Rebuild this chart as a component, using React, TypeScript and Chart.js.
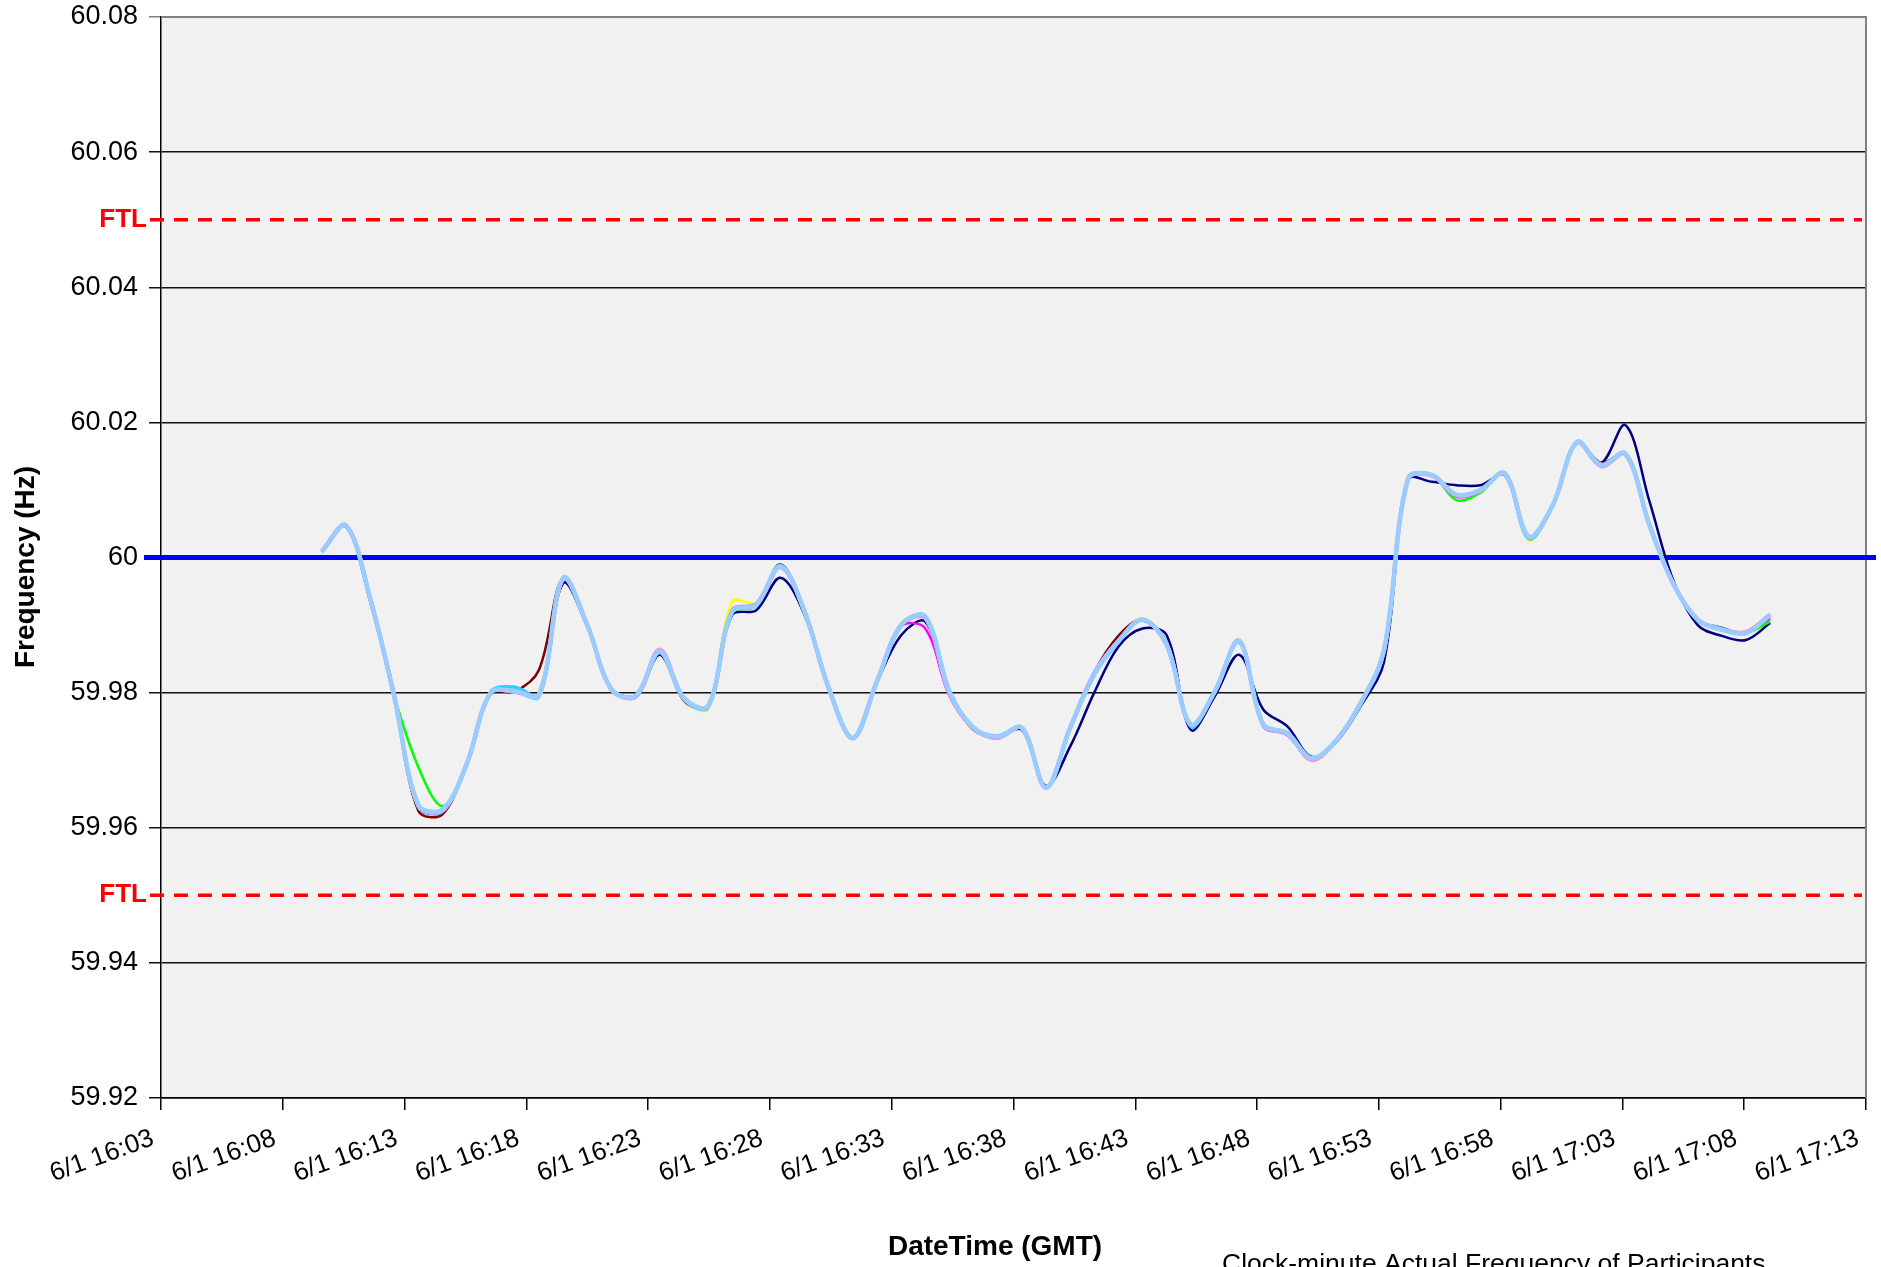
import React, { useEffect, useRef } from "react";
import { Chart, registerables } from "chart.js";

Chart.register(...registerables);

// ---------- data ----------
const tickLabels = [
  "6/1 16:03", "6/1 16:08", "6/1 16:13", "6/1 16:18", "6/1 16:23",
  "6/1 16:28", "6/1 16:33", "6/1 16:38", "6/1 16:43", "6/1 16:48",
  "6/1 16:53", "6/1 16:58", "6/1 17:03", "6/1 17:08", "6/1 17:13",
];

const yTickValues = [59.92, 59.94, 59.96, 59.98, 60, 60.02, 60.04, 60.06, 60.08];
const yTickLabels = ["59.92", "59.94", "59.96", "59.98", "60", "60.02", "60.04", "60.06", "60.08"];

const times = [
  "16:10", "16:11", "16:12", "16:13", "16:14", "16:15", "16:16", "16:17", "16:18", "16:19",
  "16:20", "16:21", "16:22", "16:23", "16:24", "16:25", "16:26", "16:27", "16:28", "16:29",
  "16:30", "16:31", "16:32", "16:33", "16:34", "16:35", "16:36", "16:37", "16:38", "16:39",
  "16:40", "16:41", "16:42", "16:43", "16:44", "16:45", "16:46", "16:47", "16:48", "16:49",
  "16:50", "16:51", "16:52", "16:53", "16:54", "16:55", "16:56", "16:57", "16:58", "16:59",
  "17:00", "17:01", "17:02", "17:03", "17:04", "17:05", "17:06", "17:07", "17:08", "17:09",
  "17:10",
];

const nominalHz = 60;
const ftlHigh = 60.05;
const ftlLow = 59.95;

// axis span in minutes after 16:00 (left end ~16:03, right end ~17:13)
const axisStartMin = 3.34;
const axisEndMin = 73.97;

const lightBlue = [
  60.0009, 60.0047, 59.9940, 59.9795, 59.9634, 59.9627, 59.9694, 59.9800, 59.9802, 59.9797,
  59.9970, 59.9900, 59.9805, 59.9795, 59.9861, 59.9792, 59.9780, 59.9920, 59.9930, 59.9987,
  59.9920, 59.9807, 59.9733, 59.9817, 59.9900, 59.9913, 59.9802, 59.9748, 59.9735, 59.9748,
  59.9659, 59.9748, 59.9827, 59.9876, 59.9908, 59.9871, 59.9753, 59.9802, 59.9876, 59.9753,
  59.9740, 59.9703, 59.9728, 59.9782, 59.9862, 60.0117, 60.0122, 60.0093, 60.0100, 60.0125,
  60.0031, 60.0078, 60.0171, 60.0137, 60.0154, 60.0048, 59.9960, 59.9908, 59.9893, 59.9888,
  59.9915,
];
const lavender = [
  60.0009, 60.0047, 59.9940, 59.9795, 59.9632, 59.9626, 59.9694, 59.9800, 59.9802, 59.9795,
  59.9969, 59.9900, 59.9805, 59.9795, 59.9862, 59.9792, 59.9780, 59.9922, 59.9931, 59.9986,
  59.9920, 59.9807, 59.9732, 59.9817, 59.9900, 59.9910, 59.9800, 59.9748, 59.9733, 59.9748,
  59.9659, 59.9748, 59.9829, 59.9877, 59.9908, 59.9871, 59.9752, 59.9802, 59.9877, 59.9752,
  59.9738, 59.9702, 59.9728, 59.9782, 59.9862, 60.0116, 60.0121, 60.0092, 60.0100, 60.0124,
  60.0031, 60.0078, 60.0170, 60.0135, 60.0153, 60.0048, 59.9960, 59.9908, 59.9894, 59.9889,
  59.9915,
];
const pink = [
  60.0010, 60.0048, 59.9940, 59.9795, 59.9633, 59.9626, 59.9694, 59.9800, 59.9801, 59.9797,
  59.9968, 59.9900, 59.9804, 59.9794, 59.9864, 59.9792, 59.9780, 59.9921, 59.9930, 59.9986,
  59.9920, 59.9806, 59.9733, 59.9817, 59.9900, 59.9911, 59.9798, 59.9747, 59.9733, 59.9748,
  59.9660, 59.9748, 59.9828, 59.9876, 59.9908, 59.9871, 59.9753, 59.9802, 59.9877, 59.9752,
  59.9740, 59.9700, 59.9728, 59.9782, 59.9862, 60.0117, 60.0122, 60.0093, 60.0099, 60.0125,
  60.0031, 60.0078, 60.0171, 60.0136, 60.0154, 60.0048, 59.9960, 59.9908, 59.9893, 59.9890,
  59.9916,
];
const skyBlue = [
  60.0009, 60.0046, 59.9938, 59.9794, 59.9632, 59.9624, 59.9694, 59.9801, 59.9808, 59.9796,
  59.9970, 59.9899, 59.9805, 59.9796, 59.9860, 59.9790, 59.9778, 59.9919, 59.9930, 59.9987,
  59.9921, 59.9806, 59.9733, 59.9816, 59.9899, 59.9913, 59.9803, 59.9747, 59.9736, 59.9748,
  59.9660, 59.9747, 59.9826, 59.9875, 59.9908, 59.9872, 59.9750, 59.9803, 59.9876, 59.9753,
  59.9738, 59.9703, 59.9729, 59.9783, 59.9861, 60.0118, 60.0122, 60.0093, 60.0100, 60.0124,
  60.0028, 60.0078, 60.0171, 60.0137, 60.0154, 60.0047, 59.9960, 59.9907, 59.9893, 59.9888,
  59.9914,
];
const cyan = [
  60.0009, 60.0047, 59.9940, 59.9795, 59.9634, 59.9626, 59.9694, 59.9800, 59.9802, 59.9790,
  59.9968, 59.9900, 59.9806, 59.9795, 59.9859, 59.9792, 59.9781, 59.9920, 59.9930, 59.9986,
  59.9920, 59.9810, 59.9734, 59.9817, 59.9900, 59.9913, 59.9802, 59.9748, 59.9735, 59.9748,
  59.9659, 59.9749, 59.9827, 59.9876, 59.9908, 59.9871, 59.9753, 59.9802, 59.9875, 59.9753,
  59.9740, 59.9703, 59.9728, 59.9782, 59.9862, 60.0117, 60.0122, 60.0093, 60.0100, 60.0125,
  60.0030, 60.0078, 60.0170, 60.0137, 60.0154, 60.0048, 59.9960, 59.9908, 59.9893, 59.9888,
  59.9914,
];
const teal = [
  60.0009, 60.0047, 59.9940, 59.9795, 59.9633, 59.9627, 59.9694, 59.9800, 59.9801, 59.9796,
  59.9970, 59.9900, 59.9805, 59.9795, 59.9861, 59.9791, 59.9780, 59.9921, 59.9932, 59.9990,
  59.9921, 59.9807, 59.9733, 59.9817, 59.9900, 59.9913, 59.9801, 59.9746, 59.9734, 59.9747,
  59.9659, 59.9748, 59.9827, 59.9876, 59.9908, 59.9871, 59.9753, 59.9802, 59.9876, 59.9753,
  59.9740, 59.9703, 59.9728, 59.9782, 59.9862, 60.0117, 60.0122, 60.0093, 60.0100, 60.0125,
  60.0031, 60.0078, 60.0171, 60.0137, 60.0154, 60.0048, 59.9960, 59.9908, 59.9896, 59.9888,
  59.9915,
];
const yellow = [
  60.0009, 60.0047, 59.9940, 59.9795, 59.9634, 59.9627, 59.9694, 59.9800, 59.9802, 59.9797,
  59.9970, 59.9900, 59.9805, 59.9795, 59.9861, 59.9790, 59.9776, 59.9935, 59.9933, 59.9990,
  59.9920, 59.9807, 59.9733, 59.9818, 59.9902, 59.9914, 59.9802, 59.9748, 59.9735, 59.9748,
  59.9659, 59.9748, 59.9827, 59.9876, 59.9910, 59.9872, 59.9753, 59.9802, 59.9876, 59.9753,
  59.9740, 59.9703, 59.9728, 59.9782, 59.9862, 60.0117, 60.0122, 60.0093, 60.0100, 60.0125,
  60.0025, 60.0078, 60.0171, 60.0137, 60.0154, 60.0048, 59.9960, 59.9908, 59.9893, 59.9888,
  59.9915,
];
const magenta = [
  60.0009, 60.0047, 59.9935, 59.9793, 59.9633, 59.9627, 59.9696, 59.9800, 59.9802, 59.9797,
  59.9968, 59.9898, 59.9805, 59.9793, 59.9861, 59.9792, 59.9780, 59.9920, 59.9930, 59.9987,
  59.9918, 59.9805, 59.9733, 59.9817, 59.9898, 59.9895, 59.9795, 59.9746, 59.9733, 59.9748,
  59.9659, 59.9750, 59.9830, 59.9876, 59.9908, 59.9871, 59.9753, 59.9802, 59.9876, 59.9750,
  59.9738, 59.9703, 59.9728, 59.9784, 59.9864, 60.0117, 60.0122, 60.0090, 60.0098, 60.0125,
  60.0031, 60.0078, 60.0171, 60.0137, 60.0154, 60.0048, 59.9960, 59.9908, 59.9893, 59.9890,
  59.9910,
];
const green = [
  60.0009, 60.0047, 59.9940, 59.9796, 59.9690, 59.9632, 59.9694, 59.9800, 59.9802, 59.9797,
  59.9970, 59.9901, 59.9805, 59.9795, 59.9860, 59.9793, 59.9780, 59.9918, 59.9928, 59.9987,
  59.9921, 59.9808, 59.9733, 59.9815, 59.9898, 59.9913, 59.9803, 59.9748, 59.9736, 59.9748,
  59.9659, 59.9746, 59.9825, 59.9876, 59.9908, 59.9871, 59.9753, 59.9802, 59.9874, 59.9753,
  59.9740, 59.9703, 59.9728, 59.9782, 59.9860, 60.0117, 60.0122, 60.0085, 60.0096, 60.0125,
  60.0031, 60.0078, 60.0171, 60.0137, 60.0154, 60.0048, 59.9960, 59.9908, 59.9893, 59.9888,
  59.9905,
];
const maroon = [
  60.0009, 60.0047, 59.9940, 59.9795, 59.9625, 59.9620, 59.9694, 59.9800, 59.9802, 59.9834,
  59.9970, 59.9900, 59.9805, 59.9795, 59.9861, 59.9788, 59.9779, 59.9920, 59.9930, 59.9987,
  59.9918, 59.9807, 59.9733, 59.9817, 59.9902, 59.9913, 59.9802, 59.9748, 59.9735, 59.9748,
  59.9659, 59.9748, 59.9830, 59.9884, 59.9908, 59.9871, 59.9753, 59.9802, 59.9876, 59.9753,
  59.9740, 59.9703, 59.9728, 59.9782, 59.9862, 60.0117, 60.0122, 60.0093, 60.0100, 60.0125,
  60.0031, 60.0078, 60.0171, 60.0140, 60.0154, 60.0048, 59.9960, 59.9908, 59.9893, 59.9888,
  59.9915,
];
const navy = [
  60.0009, 60.0047, 59.9938, 59.9795, 59.9630, 59.9625, 59.9692, 59.9798, 59.9800, 59.9797,
  59.9962, 59.9898, 59.9805, 59.9793, 59.9856, 59.9790, 59.9780, 59.9915, 59.9922, 59.9970,
  59.9915, 59.9805, 59.9733, 59.9815, 59.9885, 59.9905, 59.9800, 59.9745, 59.9735, 59.9745,
  59.9662, 59.9720, 59.9800, 59.9868, 59.9895, 59.9885, 59.9745, 59.9795, 59.9856, 59.9775,
  59.9750, 59.9705, 59.9726, 59.9778, 59.9845, 60.0115, 60.0112, 60.0107, 60.0107, 60.0122,
  60.0031, 60.0078, 60.0171, 60.0140, 60.0196, 60.0083, 59.9965, 59.9900, 59.9884, 59.9878,
  59.9903,
];

// drawn top first
const seriesList = [
  { name: "P1", color: "#99CCFF", width: 4.5, values: lightBlue },
  { name: "P2", color: "#CC99FF", width: 4, values: lavender },
  { name: "P3", color: "#FF99CC", width: 4, values: pink },
  { name: "P4", color: "#33CCFF", width: 3.5, values: skyBlue },
  { name: "P5", color: "#CCFFFF", width: 3, values: cyan },
  { name: "P6", color: "#008080", width: 2.5, values: teal },
  { name: "P7", color: "#FFFF00", width: 2.5, values: yellow },
  { name: "P8", color: "#FF00FF", width: 2.5, values: magenta },
  { name: "P9", color: "#00FF00", width: 2.5, values: green },
  { name: "P10", color: "#800000", width: 2.5, values: maroon },
  { name: "P11", color: "#000080", width: 2.5, values: navy },
];

const toMinutes = (t: string) => {
  const [h, m] = t.split(":").map(Number);
  return (h - 16) * 60 + m;
};

const FONT = "'Liberation Sans', Arial, sans-serif";

const decorPlugin = {
  id: "decor",
  beforeDraw(chart: any) {
    const { ctx, chartArea: a } = chart;
    ctx.save();
    ctx.fillStyle = "#ffffff";
    ctx.fillRect(0, 0, chart.width, chart.height);
    ctx.fillStyle = "#f1f1f1";
    ctx.fillRect(a.left, a.top, a.right - a.left, a.bottom - a.top);
    ctx.restore();
  },
  beforeDatasetsDraw(chart: any) {
    const { ctx, chartArea: a, scales } = chart;
    const y = scales.y;
    ctx.save();
    // plot border (top / right)
    ctx.strokeStyle = "#808080";
    ctx.lineWidth = 2;
    ctx.beginPath();
    ctx.moveTo(a.left, a.top);
    ctx.lineTo(a.right, a.top);
    ctx.lineTo(a.right, a.bottom);
    ctx.stroke();
    // FTL dashed lines
    ctx.strokeStyle = "#ff0000";
    ctx.lineWidth = 3.5;
    ctx.setLineDash([14, 10]);
    [ftlHigh, ftlLow].forEach((v) => {
      const py = y.getPixelForValue(v);
      ctx.beginPath();
      ctx.moveTo(a.left - 11, py);
      ctx.lineTo(a.right - 4, py);
      ctx.stroke();
    });
    ctx.setLineDash([]);
    // nominal 60 Hz line
    const p60 = y.getPixelForValue(nominalHz);
    ctx.strokeStyle = "#0000ff";
    ctx.lineWidth = 5;
    ctx.beginPath();
    ctx.moveTo(a.left - 17, p60);
    ctx.lineTo(a.right + 10, p60);
    ctx.stroke();
    ctx.restore();
  },
  afterDraw(chart: any) {
    const { ctx, chartArea: a, scales } = chart;
    const y = scales.y;
    ctx.save();
    // FTL labels
    ctx.fillStyle = "#ff0000";
    ctx.font = `bold 26px ${FONT}`;
    ctx.textAlign = "right";
    ctx.textBaseline = "middle";
    [ftlHigh, ftlLow].forEach((v) => {
      ctx.fillText("FTL", a.left - 14, y.getPixelForValue(v));
    });
    // axis titles
    ctx.fillStyle = "#000000";
    ctx.font = `bold 28px ${FONT}`;
    ctx.textAlign = "center";
    ctx.textBaseline = "middle";
    ctx.fillText("DateTime (GMT)", 995, 1247);
    ctx.save();
    ctx.translate(26, 567);
    ctx.rotate(-Math.PI / 2);
    ctx.fillText("Frequency (Hz)", 0, 0);
    ctx.restore();
    // caption (partly cut off by the image edge)
    ctx.font = `26.5px ${FONT}`;
    ctx.textAlign = "left";
    ctx.textBaseline = "top";
    ctx.fillText("Clock-minute Actual Frequency of Participants", 1222, 1251);
    ctx.restore();
  },
};

export default function App() {
  const ref = useRef<HTMLCanvasElement>(null);

  useEffect(() => {
    if (!ref.current) return;
    const xs = times.map(toMinutes);
    const chart = new Chart(ref.current, {
      type: "line",
      data: {
        datasets: seriesList.map((s) => ({
          label: s.name,
          data: s.values.map((v, i) => ({ x: xs[i], y: v })),
          borderColor: s.color,
          backgroundColor: s.color,
          borderWidth: s.width,
          pointRadius: 0,
          tension: 0.35,
          fill: false,
        })),
      },
      options: {
        animation: false,
        responsive: false,
        maintainAspectRatio: false,
        devicePixelRatio: 1,
        layout: { padding: { left: 0, right: 15, top: 17, bottom: 0 } },
        plugins: {
          legend: { display: false },
          title: { display: false },
          tooltip: { enabled: false },
        },
        scales: {
          x: {
            type: "linear",
            min: axisStartMin,
            max: axisEndMin,
            afterBuildTicks: (s: any) => {
              s.ticks = tickLabels.map((_, k) => ({
                value: axisStartMin + (k * (axisEndMin - axisStartMin)) / (tickLabels.length - 1),
              }));
            },
            afterFit: (s: any) => {
              s.height = 169;
              s.paddingLeft = 0;
              s.paddingRight = 0;
              s.paddingTop = 0;
              s.paddingBottom = 0;
            },
            ticks: {
              autoSkip: false,
              minRotation: 20,
              maxRotation: 20,
              padding: 13,
              labelOffset: -8,
              color: "#000",
              font: { family: FONT, size: 26 },
              callback: (_v: any, i: number) => tickLabels[i],
            },
            grid: {
              drawOnChartArea: false,
              drawTicks: true,
              tickLength: 12,
              color: "#000",
              lineWidth: 1.5,
            },
            border: { display: true, color: "#000", width: 1.5 },
          },
          y: {
            type: "linear",
            min: 59.92,
            max: 60.08,
            afterBuildTicks: (s: any) => {
              s.ticks = yTickValues.map((v) => ({ value: v }));
            },
            afterFit: (s: any) => {
              s.width = 161;
              s.paddingTop = 0;
              s.paddingBottom = 0;
              s.paddingLeft = 0;
              s.paddingRight = 0;
            },
            ticks: {
              padding: 11,
              color: "#000",
              font: { family: FONT, size: 27 },
              callback: (_v: any, i: number) => yTickLabels[i],
            },
            grid: {
              drawTicks: true,
              tickLength: 12,
              lineWidth: 1.5,
              color: (c: any) => (c.tick && c.tick.value === 60.08 ? "#808080" : "#111111"),
            },
            border: { display: true, color: "#000", width: 1.5 },
          },
        },
      },
      plugins: [decorPlugin],
    } as any);
    return () => chart.destroy();
  }, []);

  return (
    <div
      style={{
        position: "absolute",
        left: 0,
        top: 0,
        width: 1881,
        height: 1267,
        background: "#fff",
        overflow: "hidden",
      }}
    >
      <canvas ref={ref} width={1881} height={1267} style={{ display: "block" }} />
    </div>
  );
}
